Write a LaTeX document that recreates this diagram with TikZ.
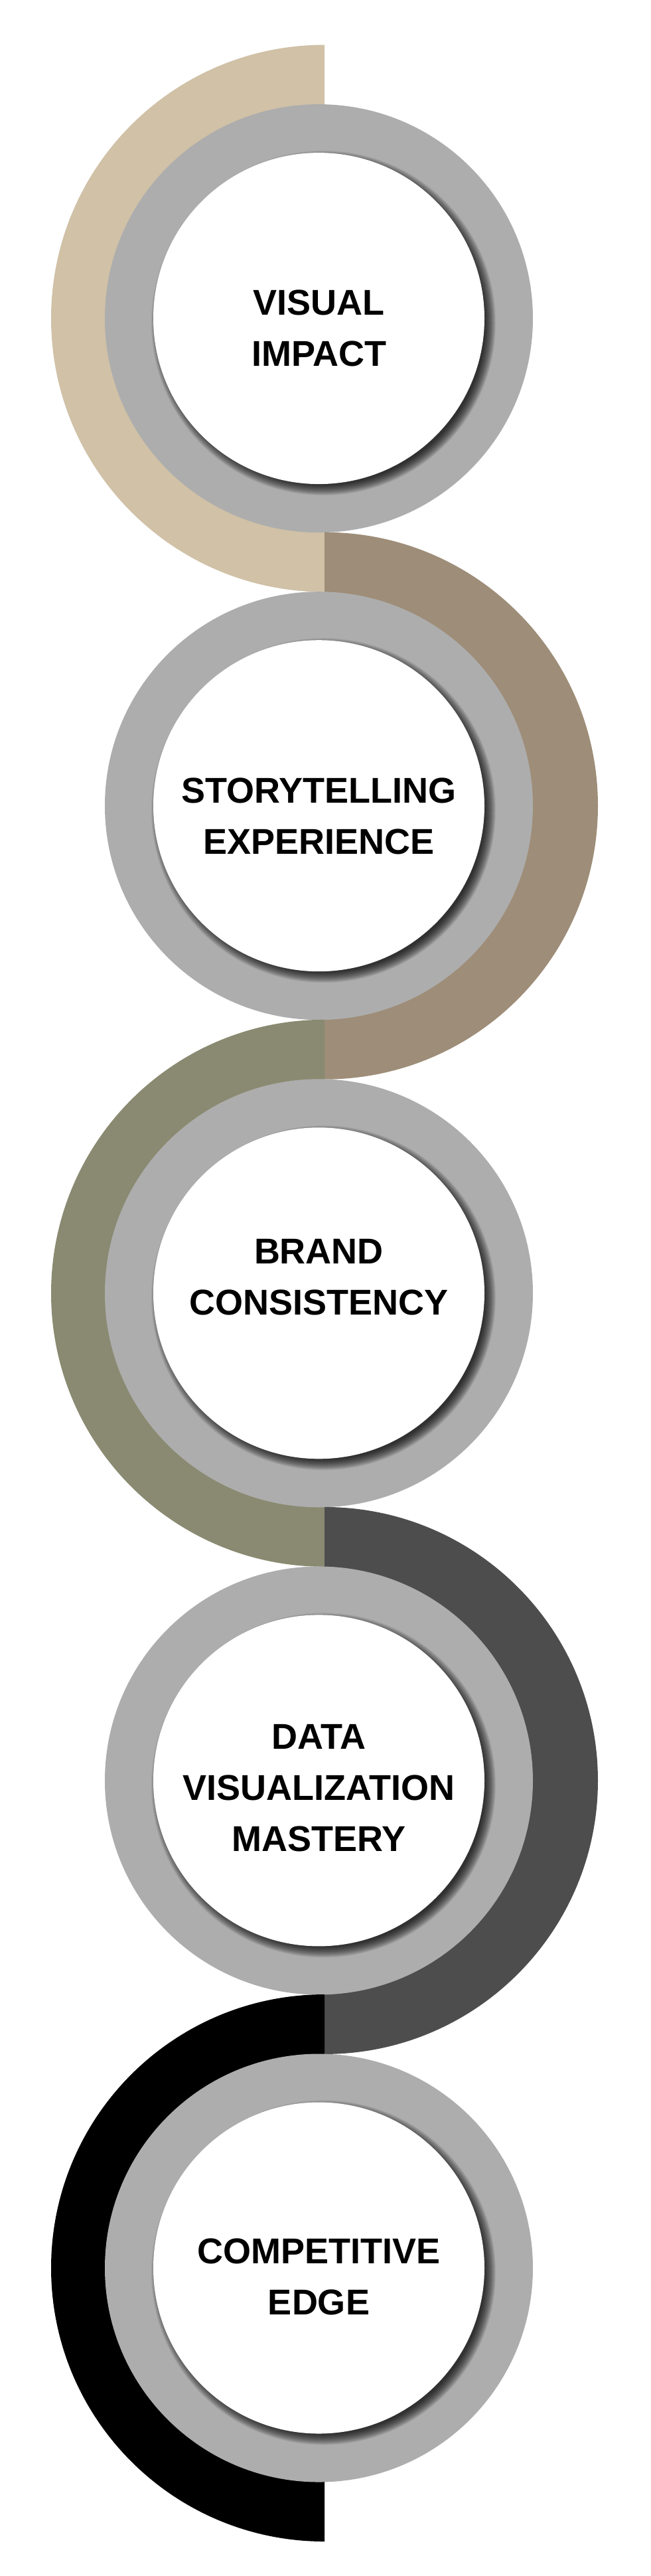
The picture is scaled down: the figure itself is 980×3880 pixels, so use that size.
\documentclass[tikz,border=0pt]{standalone}
\usepackage{fontspec}
\setmainfont{Liberation Sans}
\definecolor{ringgray}{HTML}{ADADAD}
\definecolor{ctan}{HTML}{D0C1A7}
\definecolor{cbrown}{HTML}{9E8D78}
\definecolor{colive}{HTML}{8A8A72}
\definecolor{cdark}{HTML}{4D4D4D}
\definecolor{cblack}{HTML}{000000}
\tikzset{
  ringdisc/.style={circle, fill=ringgray, inner sep=0pt, minimum size=645pt},
  whitedisc/.style={circle, fill=white, inner sep=0pt, minimum size=499pt},
  lbl/.style={font=\fontsize{54}{77}\selectfont\bfseries, align=center, inner sep=0pt, anchor=north, text=black},
}
% #1 name, #2 centre y, #3 start angle, #4 end angle, #5 colour, #6 text top, #7 text
\newcommand\ringitem[7]{%
  \fill[#5] (489,#2) ++(0,-412) arc[start angle=#3, end angle=#4, radius=412] -- cycle;
  \node[ringdisc] (#1ring) at (480.5,#2) {};
  \foreach \k in {0,...,16}{\fill[black,opacity=0.065] (487.5,#2+7) circle[radius=243.5+\k];}
  \node[whitedisc] (#1disc) at (480.5,#2) {};
  \node[lbl] (#1text) at (480.5,#6) {#7};
}
\begin{document}
\begin{tikzpicture}[x=1pt,y=-1pt]
\useasboundingbox (0,0) rectangle (980,3880);
\fill[white] (0,0) rectangle (980,3880);
\ringitem{a}{479.6}{270}{90}{ctan}{436.6}{VISUAL\\IMPACT}
\ringitem{b}{1213.7}{270}{450}{cbrown}{1171.2}{STORYTELLING\\EXPERIENCE}
\ringitem{c}{1947.8}{270}{90}{colive}{1866}{BRAND\\CONSISTENCY}
\ringitem{d}{2681.9}{270}{450}{cdark}{2597}{DATA\\VISUALIZATION\\MASTERY}
\ringitem{e}{3416}{270}{90}{cblack}{3372}{COMPETITIVE\\EDGE}
\end{tikzpicture}
\end{document}
